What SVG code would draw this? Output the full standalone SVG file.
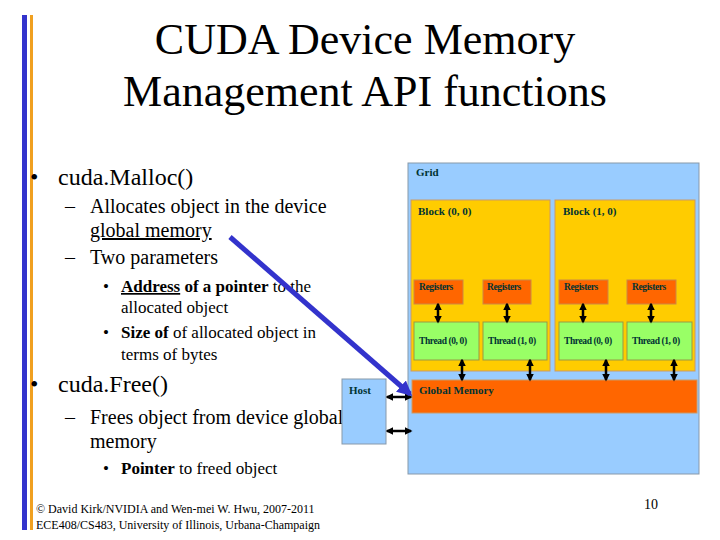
<svg xmlns="http://www.w3.org/2000/svg" width="720" height="540" viewBox="0 0 720 540" font-family="'Liberation Serif','Times New Roman',serif">
<defs>
<style>
text{font-family:"Liberation Serif","Times New Roman",serif}
.t{fill:#000}
.s{font-size:11px;font-weight:bold;fill:#003333}
.r{font-size:9.5px;font-weight:bold;fill:#003333;letter-spacing:-0.4px}
.reg{fill:#ff6600;stroke:#cc8844;stroke-width:1}
.thr{fill:#99ff66;stroke:#999944;stroke-width:1}
.blk{fill:#ffcc00;stroke:#cc9966;stroke-width:1}
.c{stroke:#000;stroke-width:2.5;fill:none;marker-start:url(#a);marker-end:url(#a)}
</style>
<marker id="a" viewBox="0 0 10 10" refX="8" refY="5" markerWidth="3" markerHeight="3" orient="auto-start-reverse"><path d="M0,0L10,5L0,10z" fill="#000"/></marker>
<marker id="b" viewBox="0 0 10 10" refX="8" refY="5" markerWidth="3" markerHeight="3" orient="auto"><path d="M0,0L10,5L0,10z" fill="#3333cc"/></marker>
</defs>
<rect width="720" height="540" fill="#fff"/>
<rect x="22" y="15" width="5" height="515" fill="#3333cc"/>
<rect x="30" y="15" width="3" height="515" fill="#f0a020"/>
<text class="t" font-size="44" x="365" y="54" text-anchor="middle">CUDA Device Memory</text>
<text class="t" font-size="44" x="365" y="106" text-anchor="middle">Management API functions</text>
<text class="t" font-size="24" x="30" y="185">•</text><text class="t" font-size="24" x="58" y="185">cuda.Malloc()</text>
<text class="t" font-size="20" x="65" y="213">–</text><text class="t" font-size="20" x="90" y="213">Allocates object in the device</text>
<text class="t" font-size="20" x="90" y="237" text-decoration="underline">global memory</text>
<text class="t" font-size="20" x="65" y="264">–</text><text class="t" font-size="20" x="90" y="264">Two parameters</text>
<text class="t" font-size="17" x="103" y="292">•</text><text class="t" font-size="17" x="121" y="292"><tspan font-weight="bold" text-decoration="underline">Address</tspan> <tspan font-weight="bold">of a pointer</tspan> to the</text>
<text class="t" font-size="17" x="121" y="313">allocated object</text>
<text class="t" font-size="17" x="103" y="338">•</text><text class="t" font-size="17" x="121" y="338"><tspan font-weight="bold">Size of</tspan> of allocated object in</text>
<text class="t" font-size="17" x="121" y="360">terms of bytes</text>
<text class="t" font-size="24" x="30" y="392">•</text><text class="t" font-size="24" x="58" y="392">cuda.Free()</text>
<text class="t" font-size="20" x="65" y="424">–</text><text class="t" font-size="20" x="90" y="424">Frees object from device global</text>
<text class="t" font-size="20" x="90" y="448">memory</text>
<text class="t" font-size="17" x="103" y="474">•</text><text class="t" font-size="17" x="121" y="474"><tspan font-weight="bold">Pointer</tspan> to freed object</text>
<text class="t" font-size="12" x="36" y="513">© David Kirk/NVIDIA and Wen-mei W. Hwu, 2007-2011</text>
<text class="t" font-size="12" x="36" y="529">ECE408/CS483, University of Illinois, Urbana-Champaign</text>
<text class="t" font-size="14" x="658" y="509" text-anchor="end">10</text>
<g id="grid"><rect x="408" y="163" width="291" height="311" fill="#99ccff" stroke="#8899aa"/><text class="s" x="416" y="176">Grid</text></g>
<g id="block00"><rect class="blk" x="411" y="200" width="139" height="171"/><text class="s" x="418" y="215">Block (0, 0)</text></g>
<g id="block10"><rect class="blk" x="555" y="200" width="140" height="171"/><text class="s" x="563" y="215">Block (1, 0)</text></g>
<g id="reg1"><rect class="reg" x="414" y="280" width="49" height="24"/><text class="r" x="419" y="290">Registers</text></g>
<g id="reg2"><rect class="reg" x="483" y="280" width="48" height="24"/><text class="r" x="487" y="290">Registers</text></g>
<g id="reg3"><rect class="reg" x="559" y="280" width="49" height="24"/><text class="r" x="564" y="290">Registers</text></g>
<g id="reg4"><rect class="reg" x="627" y="280" width="49" height="24"/><text class="r" x="632" y="290">Registers</text></g>
<g id="thr1"><rect class="thr" x="414" y="322" width="65" height="38"/><text class="r" x="419" y="344">Thread (0, 0)</text></g>
<g id="thr2"><rect class="thr" x="483" y="322" width="64" height="38"/><text class="r" x="488" y="344">Thread (1, 0)</text></g>
<g id="thr3"><rect class="thr" x="559" y="322" width="64" height="38"/><text class="r" x="564" y="344">Thread (0, 0)</text></g>
<g id="thr4"><rect class="thr" x="627" y="322" width="65" height="38"/><text class="r" x="632" y="344">Thread (1, 0)</text></g>
<g id="gmem"><rect x="412" y="380" width="285" height="33" fill="#ff6600" stroke="#cc9966"/><text class="s" x="419" y="394">Global Memory</text></g>
<g id="host"><rect x="342" y="379" width="44" height="65" fill="#99ccff" stroke="#8899aa"/><text class="s" x="349" y="394">Host</text></g>
<g id="connectors">
<line class="c" x1="438" y1="304" x2="438" y2="322"/>
<line class="c" x1="507" y1="304" x2="507" y2="322"/>
<line class="c" x1="583" y1="304" x2="583" y2="322"/>
<line class="c" x1="651" y1="304" x2="651" y2="322"/>
<line class="c" x1="462" y1="360" x2="462" y2="380"/>
<line class="c" x1="530" y1="360" x2="530" y2="380"/>
<line class="c" x1="606" y1="360" x2="606" y2="380"/>
<line class="c" x1="674" y1="360" x2="674" y2="380"/>
<line class="c" x1="387" y1="397" x2="411" y2="397"/>
<line class="c" x1="387" y1="431" x2="411" y2="431"/>
<line x1="230" y1="237" x2="410" y2="394" stroke="#3333cc" stroke-width="5" marker-end="url(#b)"/>
</g>
</svg>
